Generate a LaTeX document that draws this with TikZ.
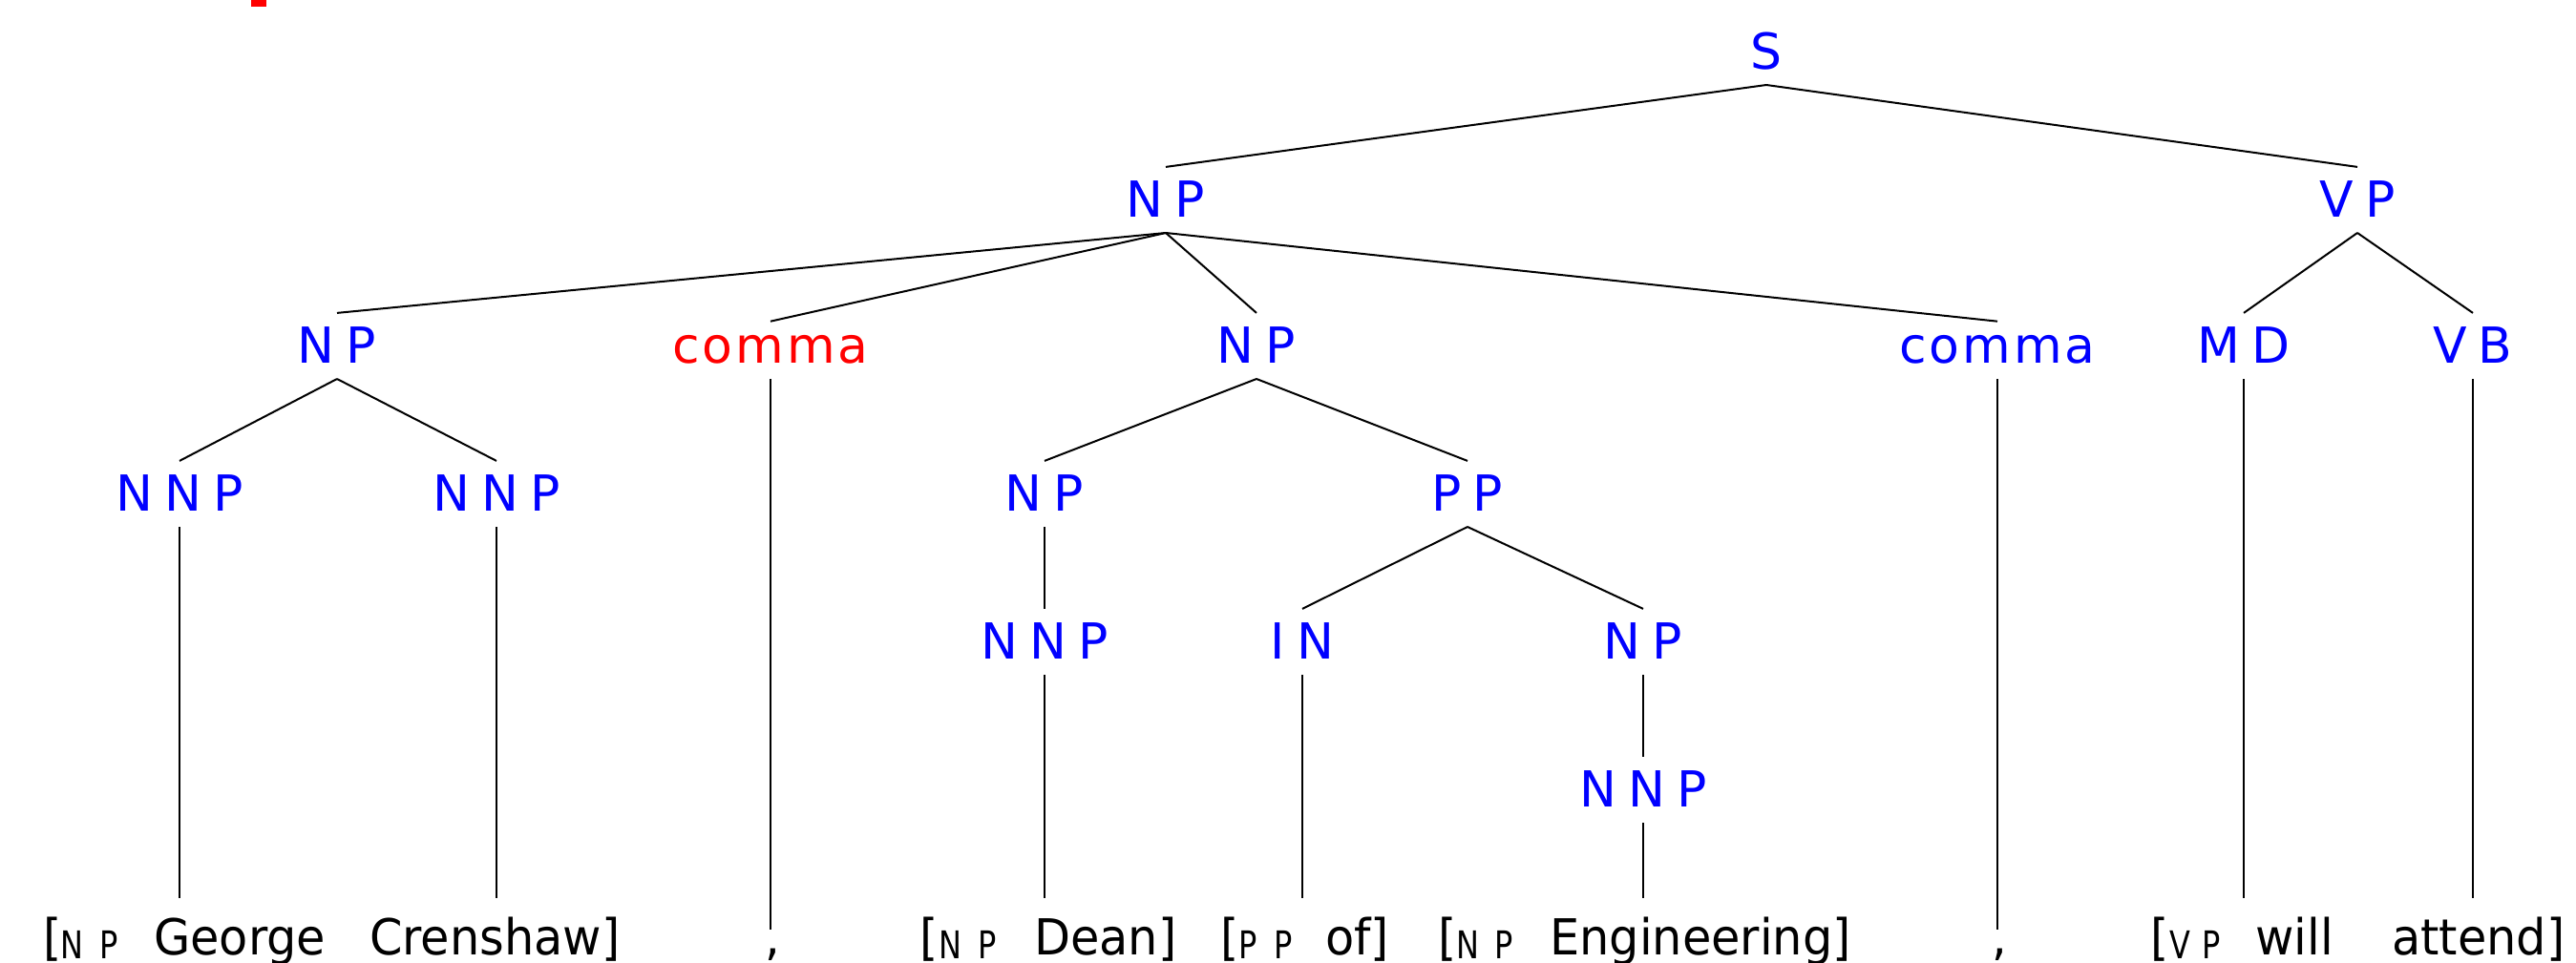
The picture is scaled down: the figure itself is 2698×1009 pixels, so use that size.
\documentclass[tikz,border=0pt]{standalone}
\usepackage{fontspec}
\setmainfont{DejaVu Sans}
\newfontfamily\leaffont[FakeStretch=0.95]{DejaVu Sans}
\newfontfamily\subleaffont[FakeStretch=0.8]{DejaVu Sans}
\newcommand\LS{\kern12pt}
\newcommand\tedge[2]{\draw[edge] ([yshift=-17pt]#1.base) -- ([yshift=14pt]#2.north);}
\begin{document}
\begin{tikzpicture}[x=1pt,y=-1pt,
  lab/.style={anchor=base,inner sep=0pt,text=blue,font=\fontsize{52}{60}\selectfont},
  redlab/.style={lab,text=red},
  leaf/.style={anchor=base west,inner sep=0pt,font=\leaffont\fontsize{52}{60}\selectfont},
  subl/.style={anchor=base west,inner sep=0pt,font=\subleaffont\fontsize{40}{48}\selectfont},
  edge/.style={line width=2pt,line cap=butt}]
\useasboundingbox (0,0) rectangle (2698,1009);
\fill[red] (263,0) rectangle (279,6.5);
% labels
\node[lab] (s) at (1850,72) {S};
\node[lab] (np) at (1221,227) {N\LS P};
\node[lab] (vp) at (2469,227) {V\LS P};
\node[lab] (npa) at (353,380) {N\LS P};
\node[redlab] (cma) at (807,380) {c\kern3pt o\kern3pt m\kern3pt m\kern3pt a};
\node[lab] (npb) at (1316,380) {N\LS P};
\node[lab] (cmb) at (2092,380) {c\kern3pt o\kern3pt m\kern3pt m\kern3pt a};
\node[lab] (md) at (2350,380) {M\LS D};
\node[lab] (vb) at (2590,380) {V\LS B};
\node[lab] (nnpa) at (188,535) {N\LS N\LS P};
\node[lab] (nnpb) at (520,535) {N\LS N\LS P};
\node[lab] (npc) at (1094,535) {N\LS P};
\node[lab] (pp) at (1537,535) {P\LS P};
\node[lab] (nnpc) at (1094,690) {N\LS N\LS P};
\node[lab] (inn) at (1364,690) {I\LS N};
\node[lab] (npd) at (1721,690) {N\LS P};
\node[lab] (nnpd) at (1721,845) {N\LS N\LS P};
% edges
\tedge{s}{np}
\tedge{s}{vp}
\tedge{np}{npa}
\tedge{np}{cma}
\tedge{np}{npb}
\tedge{np}{cmb}
\tedge{vp}{md}
\tedge{vp}{vb}
\tedge{npa}{nnpa}
\tedge{npa}{nnpb}
\tedge{npb}{npc}
\tedge{npb}{pp}
\tedge{npc}{nnpc}
\tedge{pp}{inn}
\tedge{pp}{npd}
\tedge{npd}{nnpd}
% leaf ends
\coordinate (la) at (188,941);
\coordinate (lb) at (520,941);
\coordinate (lc) at (807,974);
\coordinate (ld) at (1094,941);
\coordinate (le) at (1364,941);
\coordinate (lf) at (1721,941);
\coordinate (lg) at (2092,974);
\coordinate (lh) at (2350,941);
\coordinate (li) at (2590,941);
\draw[edge] ([yshift=-17pt]nnpa.base) -- (la);
\draw[edge] ([yshift=-17pt]nnpb.base) -- (lb);
\draw[edge] ([yshift=-17pt]cma.base) -- (lc);
\draw[edge] ([yshift=-17pt]nnpc.base) -- (ld);
\draw[edge] ([yshift=-17pt]inn.base) -- (le);
\draw[edge] ([yshift=-17pt]nnpd.base) -- (lf);
\draw[edge] ([yshift=-17pt]cmb.base) -- (lg);
\draw[edge] ([yshift=-17pt]md.base) -- (lh);
\draw[edge] ([yshift=-17pt]vb.base) -- (li);
% bottom text
\node[leaf] (b1) at (45,1000) {[};
\node[subl] (b2) at (63,1004) {N};
\node[subl] (b3) at (104,1004) {P};
\node[leaf] (b4) at (161,1000) {George};
\node[leaf] (b5) at (387,1000) {Crenshaw]};
\node[leaf,anchor=base] (b6) at (809,1000) {,};
\node[leaf] (b7) at (963,1000) {[};
\node[subl] (b8) at (983,1004) {N};
\node[subl] (b9) at (1024,1004) {P};
\node[leaf] (b10) at (1083,1000) {Dean]};
\node[leaf] (b11) at (1278,1000) {[};
\node[subl] (b12) at (1297,1004) {P};
\node[subl] (b13) at (1334,1004) {P};
\node[leaf] (b14) at (1388,1000) {of]};
\node[leaf] (b15) at (1506,1000) {[};
\node[subl] (b16) at (1525,1004) {N};
\node[subl] (b17) at (1565,1004) {P};
\node[leaf] (b18) at (1623,1000) {Engineering]};
\node[leaf,anchor=base] (b19) at (2094,1000) {,};
\node[leaf] (b20) at (2252,1000) {[};
\node[subl] (b21) at (2272,1004) {V};
\node[subl] (b22) at (2306,1004) {P};
\node[leaf] (b23) at (2362,1000) {will};
\node[leaf] (b24) at (2505,1000) {attend]};
\end{tikzpicture}
\end{document}
